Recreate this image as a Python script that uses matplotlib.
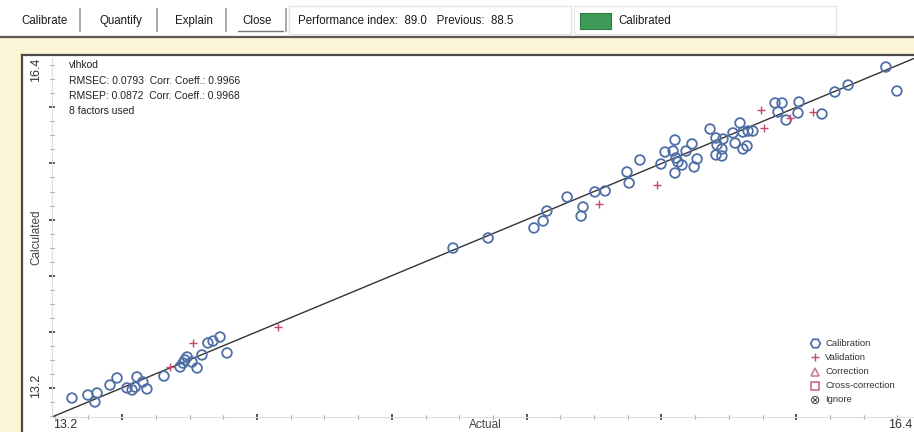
import matplotlib
matplotlib.use("Agg")
import matplotlib.pyplot as plt
import numpy as np
from matplotlib.patches import Rectangle

# ---------------- data ----------------
calib_actual = [13.274, 13.333, 13.359, 13.367, 13.415, 13.441, 13.478, 13.497, 13.515, 13.508,
                13.537, 13.552, 13.615, 13.675, 13.693, 13.701, 13.686, 13.719, 13.738, 13.756,
                13.778, 13.797, 13.823, 13.849,
                14.687, 14.817, 14.987, 15.021, 15.035, 15.110, 15.169, 15.162, 15.213, 15.251,
                15.332, 15.340, 15.380, 15.458, 15.473, 15.503, 15.510, 15.514, 15.521, 15.536,
                15.510, 15.551, 15.573, 15.592, 15.581, 15.640, 15.662, 15.666, 15.688, 15.684,
                15.662, 15.684, 15.725, 15.733, 15.751, 15.762, 15.762, 15.777, 15.781, 15.799,
                15.881, 15.907, 15.892, 15.922, 15.966, 15.970, 16.055, 16.103, 16.152, 16.292,
                16.333]
calib_calc = [13.369, 13.396, 13.334, 13.414, 13.485, 13.548, 13.459, 13.441, 13.557, 13.467,
              13.512, 13.450, 13.565, 13.646, 13.708, 13.735, 13.681, 13.690, 13.637, 13.753,
              13.860, 13.877, 13.913, 13.771,
              14.706, 14.796, 14.885, 14.947, 15.036, 15.161, 15.072, 14.991, 15.206, 15.215,
              15.384, 15.286, 15.491, 15.455, 15.562, 15.571, 15.669, 15.509, 15.473, 15.446,
              15.375, 15.571, 15.634, 15.500, 15.429, 15.767, 15.687, 15.625, 15.678, 15.589,
              15.536, 15.527, 15.732, 15.642, 15.821, 15.740, 15.589, 15.616, 15.749, 15.749,
              15.999, 15.999, 15.919, 15.847, 15.910, 16.008, 15.901, 16.097, 16.159, 16.320,
              16.106]
valid_actual = [13.638, 13.723, 14.038, 15.228, 15.443, 15.829, 15.840, 15.937, 16.022]
valid_calc = [13.646, 13.860, 14.002, 15.099, 15.268, 15.937, 15.776, 15.865, 15.919]
fit_x = [13.2, 16.4]
fit_y = [13.2, 16.4]
axis_min, axis_max = 13.2, 16.4
stats_lines = ["vlhkod",
               "RMSEC: 0.0793  Corr. Coeff.: 0.9966",
               "RMSEP: 0.0872  Corr. Coeff.: 0.9968",
               "8 factors used"]
legend_labels = ["Calibration", "Validation", "Correction", "Cross-correction", "Ignore"]
toolbar_buttons = ["Calibrate", "Quantify", "Explain", "Close"]
perf_text = "Performance index:  89.0   Previous:  88.5"
status_text = "Calibrated"

# ---------------- figure ----------------
W, H = 914, 432
fig = plt.figure(figsize=(W / 100, H / 100), dpi=100)
fig.patch.set_facecolor("white")
plt.rcParams["font.family"] = ["Liberation Sans", "DejaVu Sans"]

def fx(px):
    return px / W

def fy(py):
    return 1 - py / H

# background frame (yellow band + panel)
bg = fig.add_axes([0, 0, 1, 1], zorder=-5)
bg.set_xlim(0, W)
bg.set_ylim(H, 0)
bg.axis("off")
bg.add_patch(Rectangle((0, 37), W, H - 37, facecolor="#fbf4d6", edgecolor="none"))
bg.add_patch(Rectangle((22, 55), W - 22, H - 55, facecolor="white", edgecolor="none"))
bg.plot([0, W], [36.5, 36.5], color="#5a5a50", lw=1.6)
bg.plot([22, W], [55, 55], color="#4a4a44", lw=1.6)
bg.plot([22, 22], [55, H], color="#4a4a44", lw=1.6)
# toolbar panels
bg.add_patch(Rectangle((289, 6), 282, 28, facecolor="none", edgecolor="#e2e2e2", lw=1))
bg.add_patch(Rectangle((574, 6), 262, 28, facecolor="none", edgecolor="#e6e6e6", lw=1))
# separators
for sx in [80, 157, 226, 286]:
    bg.plot([sx, sx], [9, 31], color="#9a9a9a", lw=1.2)
# Close button underline
bg.plot([238, 283], [31, 31], color="#777777", lw=1.0)
# green status box
bg.add_patch(Rectangle((580, 13), 31, 16, facecolor="#3d9a57", edgecolor="#2f7d45", lw=0.8))

btn_x = [21, 99, 175, 242]
for label, bx in zip(toolbar_buttons, btn_x):
    fig.text(fx(bx), fy(21), label, fontsize=8.3, ha="left", va="center", color="#1a1a1a")
fig.text(fx(298), fy(21), perf_text, fontsize=8.3, ha="left", va="center", color="#1a1a1a")
fig.text(fx(618), fy(21), status_text, fontsize=8.3, ha="left", va="center", color="#1a1a1a")

# ---------------- plot axes ----------------
left, right, top, bottom = 52, 915, 58, 417
ax = fig.add_axes([fx(left), fy(bottom), (right - left) / W, (bottom - top) / H])
ax.set_xlim(axis_min, axis_max)
ax.set_ylim(axis_min, axis_max)
ax.set_facecolor("none")
for s in ["top", "right"]:
    ax.spines[s].set_visible(False)
for s in ["left", "bottom"]:
    ax.spines[s].set_color("#dddddd")
    ax.spines[s].set_linewidth(0.8)

major = np.arange(13.46, 16.4, 0.5)
minor = np.arange(13.21, 16.4, 0.125)
ax.set_xticks(major)
ax.set_yticks(major)
ax.set_xticks(minor, minor=True)
ax.set_yticks(minor, minor=True)
ax.tick_params(which="major", direction="inout", length=5, width=1.4, color="#555555",
               labelbottom=False, labelleft=False)
ax.tick_params(which="minor", direction="inout", length=3, width=0.8, color="#999999")

ax.plot(fit_x, fit_y, color="#333333", lw=1.0, zorder=2)
ax.scatter(calib_actual, calib_calc, s=48, marker="o", facecolors="none",
           edgecolors="#4f6fa6", linewidths=1.3, zorder=3)
ax.scatter(valid_actual, valid_calc, s=30, marker="+", color="#c4486a",
           linewidths=1.0, zorder=4)

# stats text
for i, line in enumerate(stats_lines):
    fig.text(fx(69), fy(65 + i * 15.5), line, fontsize=7.5, ha="left", va="center",
             color="#222222")

# axis end labels
fig.text(fx(53), fy(425), "13.2", fontsize=9, ha="left", va="center", color="#333333")
fig.text(fx(912), fy(425), "16.4", fontsize=9, ha="right", va="center", color="#333333")
fig.text(fx(36), fy(70), "16.4", fontsize=9, ha="center", va="center", rotation=90,
         color="#333333")
fig.text(fx(36), fy(386), "13.2", fontsize=9, ha="center", va="center", rotation=90,
         color="#333333")
fig.text(fx(36), fy(237), "Calculated", fontsize=8.5, ha="center", va="center", rotation=90,
         color="#444444")
fig.text(fx(485), fy(425), "Actual", fontsize=8.5, ha="center", va="center", color="#444444")

# legend (custom)
leg_y = [343, 357, 372, 386, 400]
bg.plot([815], [leg_y[0]], marker="H", ls="none", mfc="none", mec="#4f6fa6", ms=7, mew=1.3)
bg.plot([815], [leg_y[1]], marker="+", ls="none", color="#c4486a", ms=6, mew=1.0)
bg.plot([815], [leg_y[2]], marker="^", ls="none", mfc="none", mec="#c77a8a", ms=6, mew=1.1)
bg.plot([815], [leg_y[3]], marker="s", ls="none", mfc="none", mec="#c7607a", ms=6, mew=1.1)
fig.text(fx(815), fy(leg_y[4]), "\u2297", fontsize=9, ha="center", va="center",
         color="#333333", family=["DejaVu Sans"])
for lab, ly in zip(legend_labels, leg_y):
    fig.text(fx(825), fy(ly), lab, fontsize=6.8, ha="left", va="center", color="#333333")

fig.savefig("out.png", dpi=100, facecolor=fig.get_facecolor())
